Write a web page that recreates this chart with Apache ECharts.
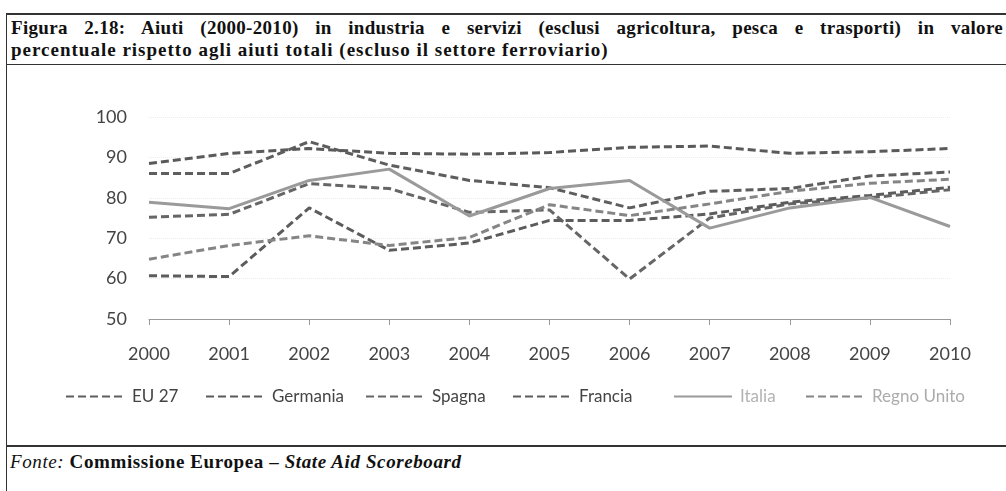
<!DOCTYPE html>
<html lang="it">
<head>
<meta charset="UTF-8">
<title>Figura 2.18</title>
<style>
  * { margin: 0; padding: 0; }
  body { width: 1006px; height: 491px; overflow: hidden; background: #fff; position: relative; font-family: "Liberation Serif", serif; color: #111; }
  .rule { position: absolute; background: #333; }
  .title { position: absolute; left: 11px; width: 992px; font-size: 19px; font-weight: bold; line-height: 22px; white-space: nowrap; letter-spacing: 1px; }
  #t1 { top: 17px; text-align: justify; text-align-last: justify; white-space: normal; letter-spacing: 0.3px; }
  #t2 { top: 39px; }
  #fonte { position: absolute; left: 10px; top: 451px; font-size: 19px; line-height: 22px; letter-spacing: 0.6px; }
  #chart { position: absolute; left: 0; top: 0; width: 1006px; height: 491px; }
</style>
</head>
<body>
  <div class="rule" style="left:6px;top:13px;width:1000px;height:2px"></div>
  <div class="rule" style="left:6px;top:13px;width:1px;height:478px"></div>
  <div class="rule" style="left:6px;top:64px;width:1000px;height:1px"></div>
  <div class="rule" style="left:6px;top:445px;width:1000px;height:2px"></div>
  <div class="title" id="t1">Figura 2.18: Aiuti (2000-2010) in industria e servizi (esclusi agricoltura, pesca e trasporti) in valore</div>
  <div class="title" id="t2">percentuale rispetto agli aiuti totali (escluso il settore ferroviario)</div>
  <div id="fonte"><i>Fonte:</i> <b>Commissione Europea – <i>State Aid Scoreboard</i></b></div>
  <div id="chart"></div>

  <script src="https://cdn.jsdelivr.net/npm/echarts@6/dist/echarts.min.js"></script>
  <script>
    const years = ['2000', '2001', '2002', '2003', '2004', '2005', '2006', '2007', '2008', '2009', '2010'];
    const eu27 = [86, 86, 93.9, 88.1, 84.3, 82.5, 77.5, 81.6, 82.3, 85.4, 86.4];
    const germania = [88.5, 91, 92.2, 91, 90.8, 91.2, 92.5, 92.8, 91, 91.4, 92.2];
    const spagna = [75.2, 75.9, 83.5, 82.3, 76.4, 77, 59.9, 75, 78.5, 80, 82];
    const francia = [60.7, 60.5, 77.5, 67, 68.8, 74.4, 74.4, 76, 78.9, 80.6, 82.6];
    const italia = [78.9, 77.3, 84.3, 87.1, 75.5, 82.3, 84.3, 72.5, 77.5, 80.1, 72.9];
    const regnoUnito = [64.8, 68.2, 70.6, 68.2, 70.2, 78.3, 75.6, 78.5, 81.6, 83.6, 84.6];

    const seriesDefs = [
      { name: 'EU 27', data: eu27, color: '#5e5e5e', dash: [8, 4], text: '#444' },
      { name: 'Germania', data: germania, color: '#5a5a5a', dash: [8, 4], text: '#444' },
      { name: 'Spagna', data: spagna, color: '#666666', dash: [8, 4], text: '#444' },
      { name: 'Francia', data: francia, color: '#5c5c5c', dash: [8, 4], text: '#444' },
      { name: 'Italia', data: italia, color: '#9a9a9a', dash: 'solid', text: '#b3b3b3' },
      { name: 'Regno Unito', data: regnoUnito, color: '#858585', dash: [8, 4], text: '#ababab' }
    ];
    // legend slots, as in the original (not evenly spaced)
    const legendLeft = [60, 200, 360, 507, 668, 800];

    const chart = echarts.init(document.getElementById('chart'));
    chart.setOption({
      animation: false,
      grid: { left: 149, right: 56, top: 117, bottom: 172 },
      legend: seriesDefs.map((s, i) => ({
        left: legendLeft[i],
        top: 383,
        itemWidth: 58,
        itemHeight: 16,
        itemStyle: { opacity: 0 },
        data: [{ name: s.name, textStyle: { color: s.text } }],
        textStyle: { fontFamily: 'Lato', fontSize: 17, padding: [0, 0, 0, 3] }
      })),
      xAxis: {
        type: 'category',
        data: years,
        boundaryGap: false,
        axisLine: { lineStyle: { color: '#9a9a9a', width: 1 } },
        axisTick: { show: true, length: 6, lineStyle: { color: '#9a9a9a' } },
        axisLabel: { fontFamily: 'Lato', fontSize: 18, color: '#444', margin: 26 }
      },
      yAxis: {
        type: 'value',
        min: 50,
        max: 100,
        interval: 10,
        axisLine: { show: false },
        axisTick: { show: false },
        axisLabel: { fontFamily: 'Lato', fontSize: 18, color: '#444', margin: 22 },
        splitLine: { show: true, lineStyle: { color: '#ececec', type: 'dotted' } }
      },
      series: seriesDefs.map(s => ({
        name: s.name,
        type: 'line',
        data: s.data,
        symbol: 'none',
        lineStyle: { color: s.color, width: 3, type: s.dash },
        itemStyle: { color: s.color }
      }))
    });
  </script>
</body>
</html>
